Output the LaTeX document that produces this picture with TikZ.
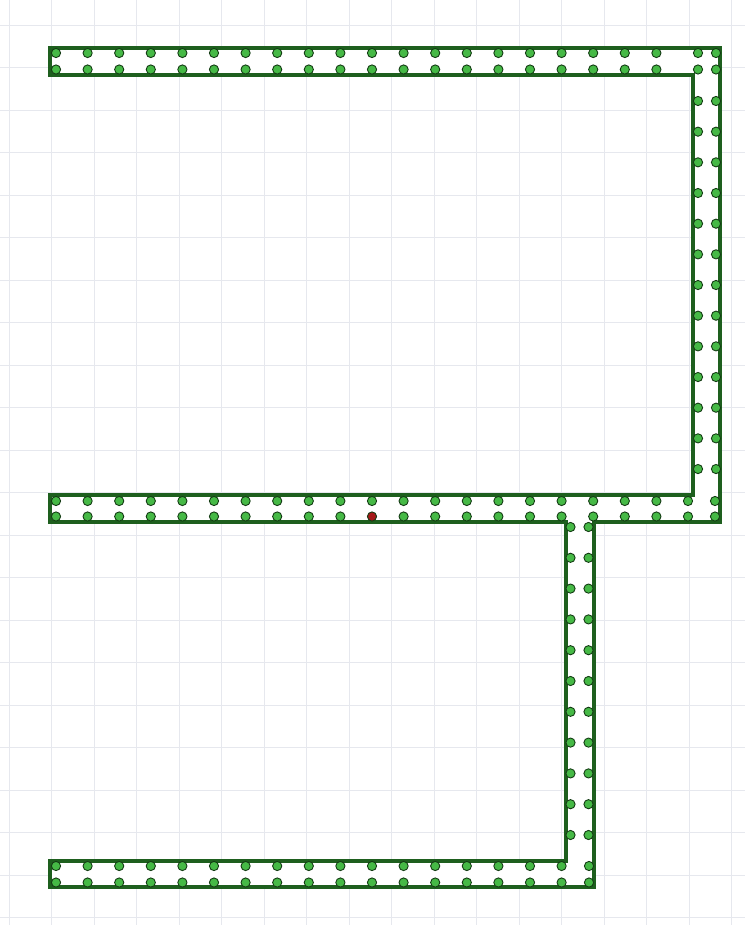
\documentclass[tikz,border=0pt]{standalone}
\definecolor{gridc}{RGB}{230,232,238}
\definecolor{wallc}{RGB}{30,95,30}
\definecolor{dotfill}{RGB}{70,185,70}
\definecolor{dotline}{RGB}{20,60,20}
\definecolor{redfill}{RGB}{165,25,25}
\tikzset{
  gridline/.style={draw=gridc, line width=0.8pt},
  wall/.style={draw=wallc, fill=white, line width=3.2pt, line join=miter},
  gdot/.style={fill=dotfill, draw=dotline, line width=0.9pt},
  rdot/.style={fill=redfill, draw=dotline, line width=0.9pt}
}
\begin{document}
\begin{tikzpicture}[x=1pt,y=-1pt]
\useasboundingbox (0,0) rectangle (745,925);
\fill[white] (0,0) rectangle (745,925);
% grid
\foreach \k in {0,...,17} {\draw[gridline] (9+42.5*\k,0) -- (9+42.5*\k,925);}
\foreach \k in {0,...,21} {\draw[gridline] (0,25+42.5*\k) -- (745,25+42.5*\k);}
% track outline
\draw[wall] (50,48) -- (720,48) -- (720,522) -- (594,522) -- (594,887) -- (50,887)
  -- (50,861) -- (566,861) -- (566,522) -- (50,522) -- (50,495) -- (693,495)
  -- (693,75) -- (50,75) -- cycle;
\def\r{4.6}
% top bar
\foreach \i in {0,...,19} {
  \fill[gdot] (56+31.6*\i,53) circle (\r);
  \fill[gdot] (56+31.6*\i,69.5) circle (\r);
}
\foreach \x in {698,716} {
  \fill[gdot] (\x,53) circle (\r);
  \fill[gdot] (\x,69.5) circle (\r);
}
% right column
\foreach \j in {0,...,12} {
  \fill[gdot] (698,101+30.67*\j) circle (\r);
  \fill[gdot] (716,101+30.67*\j) circle (\r);
}
% middle bar
\foreach \i in {0,...,20} {
  \fill[gdot] (56+31.6*\i,501) circle (\r);
  \ifnum\i=10\relax\else\fill[gdot] (56+31.6*\i,516.5) circle (\r);\fi
}
\fill[rdot] (56+31.6*10,516.5) circle (\r);
\fill[gdot] (715,501) circle (\r);
\fill[gdot] (715,516.5) circle (\r);
% lower column
\foreach \j in {0,...,10} {
  \fill[gdot] (570.5,527+30.8*\j) circle (\r);
  \fill[gdot] (588.5,527+30.8*\j) circle (\r);
}
% bottom bar
\foreach \i in {0,...,16} {
  \fill[gdot] (56+31.6*\i,866) circle (\r);
  \fill[gdot] (56+31.6*\i,882.5) circle (\r);
}
\fill[gdot] (589,866) circle (\r);
\fill[gdot] (589,882.5) circle (\r);
\end{tikzpicture}
\end{document}
